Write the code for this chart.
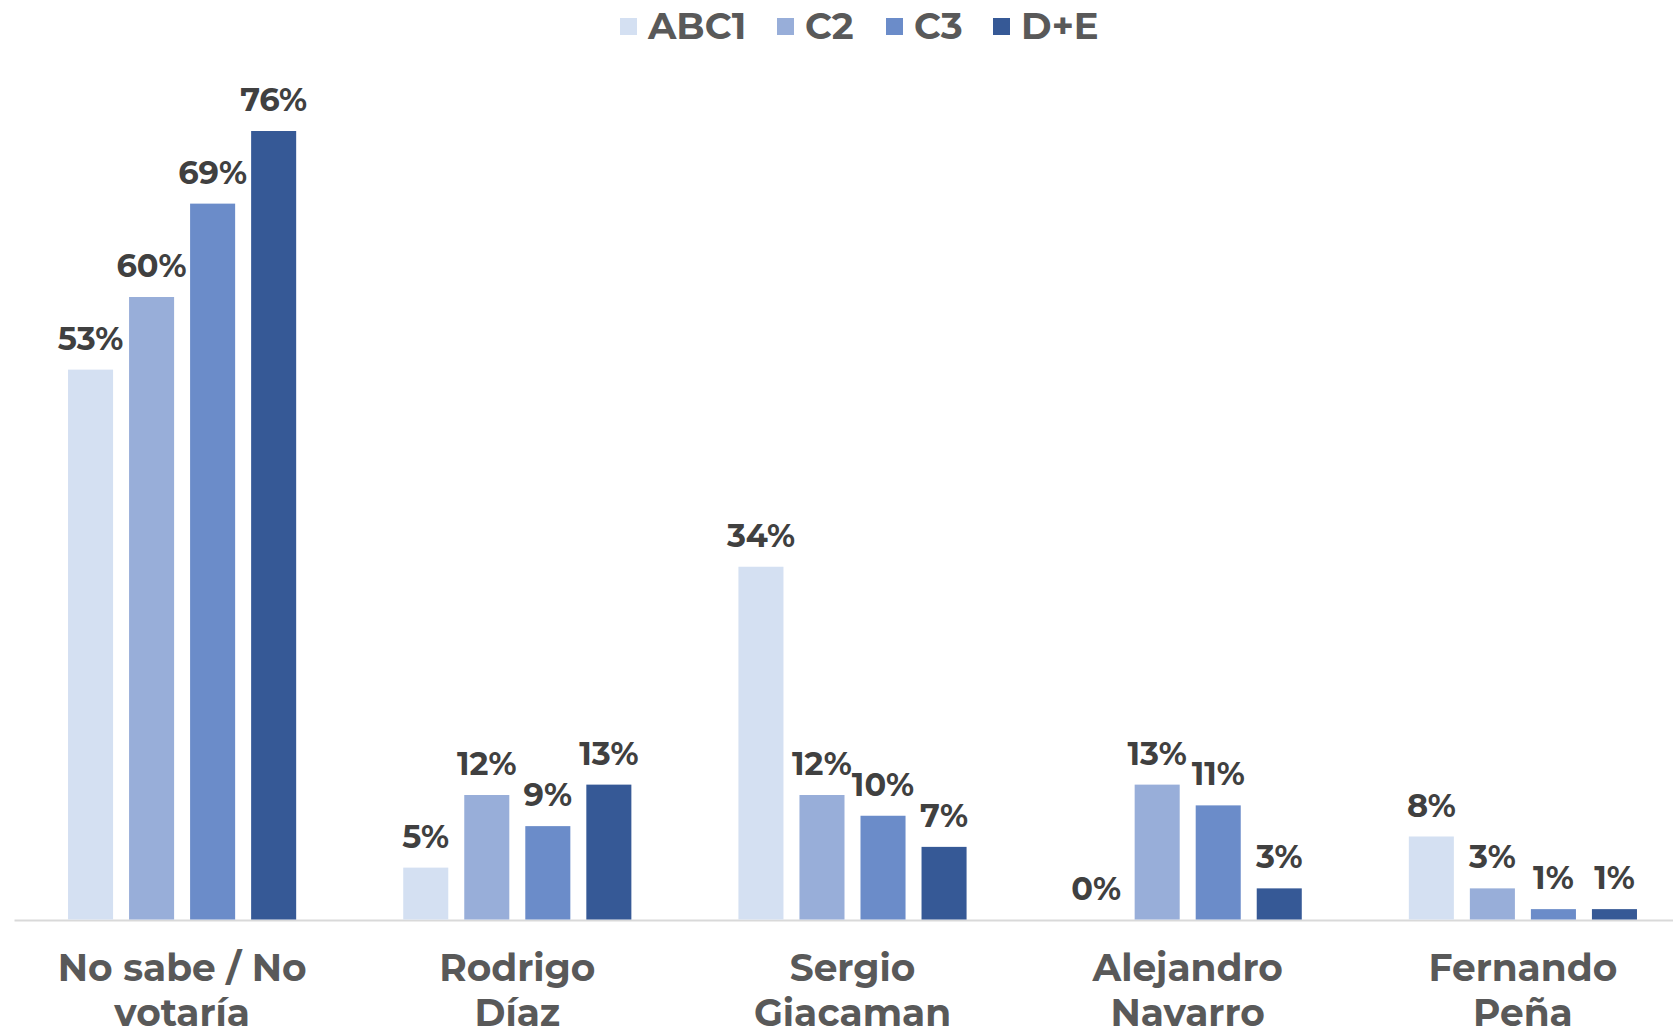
<!DOCTYPE html>
<html>
<head>
<meta charset="utf-8">
<script src="https://cdn.jsdelivr.net/npm/d3@7"></script>
<style>
  body { margin: 0; background: #fff; }
  text { font-family: "Montserrat", "Open Sans", sans-serif; font-weight: 700; }
</style>
</head>
<body>
<div id="chart"></div>
<script>
var categories = [
  ["No sabe / No", "votaría"],
  ["Rodrigo", "Díaz"],
  ["Sergio", "Giacaman"],
  ["Alejandro", "Navarro"],
  ["Fernando", "Peña"]
];
var series = ["ABC1", "C2", "C3", "D+E"];
var colors = ["#d4e0f2", "#98aed9", "#6b8cc9", "#365996"];

var abc1 = [53, 5, 34, 0, 8];
var c2 = [60, 12, 12, 13, 3];
var c3 = [69, 9, 10, 11, 1];
var de = [76, 13, 7, 3, 1];
var values = [abc1, c2, c3, de];

var width = 1673;
var height = 1031;
var baseY = 919.5;

var svg = d3
  .select("#chart")
  .append("svg")
  .attr("width", width)
  .attr("height", height);

var catIndex = d3.range(categories.length);

var x0 = d3
  .scaleBand()
  .domain(catIndex)
  .range([14.5, 1690.5])
  .padding(0);

var x1 = d3
  .scaleBand()
  .domain(series)
  .range([0, x0.bandwidth()])
  .paddingInner(0.262)
  .paddingOuter(0.877);

var y = d3
  .scaleLinear()
  .domain([0, 76])
  .range([baseY, 131]);

// axis line
svg
  .append("line")
  .attr("x1", 14.5)
  .attr("x2", width)
  .attr("y1", baseY + 1)
  .attr("y2", baseY + 1)
  .attr("stroke", "#d9d9d9")
  .attr("stroke-width", 2);

var rows = [];
series.forEach(function(s, si) {
  values[si].forEach(function(v, ci) {
    rows.push({ s: s, si: si, ci: ci, v: v });
  });
});

svg
  .append("g")
  .selectAll("rect")
  .data(rows)
  .enter()
  .append("rect")
  .attr("x", function(d) {
    return x0(d.ci) + x1(d.s);
  })
  .attr("y", function(d) {
    return y(d.v);
  })
  .attr("width", x1.bandwidth())
  .attr("height", function(d) {
    return baseY - y(d.v);
  })
  .attr("fill", function(d) {
    return colors[d.si];
  });

svg
  .append("g")
  .selectAll("text")
  .data(rows)
  .enter()
  .append("text")
  .text(function(d) {
    return d.v + "%";
  })
  .attr("x", function(d) {
    return x0(d.ci) + x1(d.s) + x1.bandwidth() / 2;
  })
  .attr("y", function(d) {
    return y(d.v) - 20;
  })
  .attr("text-anchor", "middle")
  .style("font-size", "32px")
  .style("fill", "#404040");

// category labels
var catLabels = svg
  .append("g")
  .selectAll("text")
  .data(categories)
  .enter()
  .append("text")
  .attr("text-anchor", "middle")
  .style("font-size", "37.5px")
  .style("fill", "#595959");

catLabels
  .selectAll("tspan")
  .data(function(d, i) {
    return d.map(function(line, li) {
      return { line: line, li: li, ci: i };
    });
  })
  .enter()
  .append("tspan")
  .attr("x", function(d) {
    return x0(d.ci) + x0.bandwidth() / 2;
  })
  .attr("y", function(d) {
    return 981 + d.li * 45;
  })
  .text(function(d) {
    return d.line;
  });

// legend
var legendX = [620, 777, 886, 993];
var legend = svg
  .append("g")
  .selectAll("g")
  .data(series)
  .enter()
  .append("g")
  .attr("transform", function(d, i) {
    return "translate(" + legendX[i] + ",18)";
  });

legend
  .append("rect")
  .attr("width", 17)
  .attr("height", 17)
  .attr("fill", function(d, i) {
    return colors[i];
  });

legend
  .append("text")
  .text(function(d) {
    return d;
  })
  .attr("x", 28)
  .attr("y", 21)
  .style("font-size", "37px")
  .style("fill", "#595959");
</script>
</body>
</html>
